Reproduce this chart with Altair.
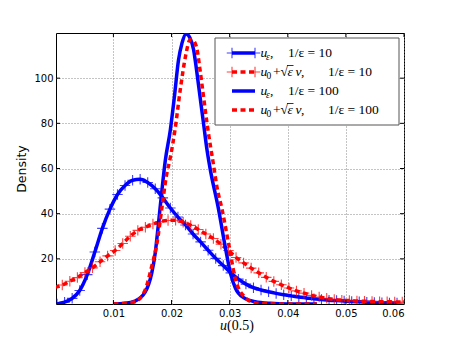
import altair as alt
import pandas as pd

# ---------------- data ----------------
x_ticks = [0.01, 0.02, 0.03, 0.04, 0.05, 0.06]
y_ticks = [20, 40, 60, 80, 100]

# u_eps, 1/eps = 10  (blue, '+' markers)
blue10_x = [0.0003, 0.0016, 0.0029, 0.0042, 0.0055, 0.0068, 0.0081, 0.0094, 0.0107, 0.0120,
            0.0133, 0.0146, 0.0159, 0.0172, 0.0185, 0.0198, 0.0211, 0.0224, 0.0237, 0.0250,
            0.0263, 0.0276, 0.0289, 0.0302, 0.0315, 0.0328, 0.0341, 0.0354, 0.0367, 0.0380,
            0.0393, 0.0406, 0.0419, 0.0432, 0.0445, 0.0458, 0.0471, 0.0484, 0.0497, 0.0510,
            0.0523, 0.0536, 0.0549, 0.0562, 0.0575, 0.0588]
blue10_y = [0.0, 0.8, 2.5, 6.0, 13.0, 23.0, 33.5, 42.0, 48.5, 52.5,
            54.8, 55.2, 53.8, 51.0, 47.0, 42.5, 38.5, 35.0, 31.0, 27.5,
            23.8, 20.2, 17.0, 13.8, 11.0, 8.8, 7.2, 6.2, 5.4, 4.7,
            4.1, 3.6, 3.1, 2.7, 2.3, 2.0, 1.7, 1.5, 1.3, 1.1,
            1.0, 0.8, 0.7, 0.6, 0.5, 0.4]

# u0 + sqrt(eps) v, 1/eps = 10  (red dashed, '+' markers)
red10_x = [-0.0001, 0.0012, 0.0025, 0.0038, 0.0051, 0.0064, 0.0077, 0.0090, 0.0103, 0.0116,
           0.0129, 0.0142, 0.0155, 0.0168, 0.0181, 0.0194, 0.0207, 0.0220, 0.0233, 0.0246,
           0.0259, 0.0272, 0.0285, 0.0298, 0.0311, 0.0324, 0.0337, 0.0350, 0.0363, 0.0376,
           0.0389, 0.0402, 0.0415, 0.0428, 0.0441, 0.0454, 0.0467, 0.0480, 0.0493, 0.0506,
           0.0519, 0.0532, 0.0545, 0.0558, 0.0571, 0.0584, 0.0597]
red10_y = [7.4, 8.4, 10.1, 11.7, 13.9, 16.0, 18.7, 21.3, 23.7, 26.8,
           30.0, 32.6, 34.0, 35.4, 36.5, 37.0, 37.1, 36.2, 34.8, 33.0,
           31.0, 29.0, 26.5, 23.7, 20.6, 18.2, 15.9, 13.8, 11.8, 10.0,
           8.5, 7.1, 5.8, 4.8, 3.8, 3.1, 2.5, 2.0, 1.7, 1.5,
           1.3, 1.2, 1.1, 1.0, 1.0, 0.9, 0.9]

# u_eps, 1/eps = 100  (blue solid)
blue100_x = [0.0100, 0.0120, 0.0137, 0.0154, 0.0166, 0.0172, 0.0177, 0.0183, 0.0189, 0.0198,
             0.0205, 0.0212, 0.0218, 0.0225, 0.0232, 0.0238, 0.0243, 0.0249, 0.0255, 0.0261,
             0.0266, 0.0281, 0.0293, 0.0302, 0.0310, 0.0324, 0.0344, 0.0370, 0.0400, 0.0450]
blue100_y = [0.0, 0.3, 1.3, 5.0, 13.8, 22.7, 34.4, 49.2, 63.0, 77.2,
             91.9, 108.0, 115.5, 119.6, 117.7, 112.5, 103.7, 91.9, 80.1, 68.3,
             60.5, 41.8, 24.5, 13.0, 7.0, 2.8, 1.0, 0.3, 0.05, 0.0]

# u0 + sqrt(eps) v, 1/eps = 100  (red dashed)
red100_x = [0.0100, 0.0120, 0.0137, 0.0155, 0.0166, 0.0175, 0.0183, 0.0191, 0.0198, 0.0206,
            0.0215, 0.0224, 0.0232, 0.0238, 0.0244, 0.0249, 0.0255, 0.0261, 0.0267, 0.0272,
            0.0278, 0.0287, 0.0298, 0.0310, 0.0327, 0.0344, 0.0370, 0.0400, 0.0450]
red100_y = [0.0, 0.3, 1.0, 6.5, 16.8, 27.0, 41.8, 56.5, 65.0, 77.2,
            94.9, 109.6, 117.0, 116.5, 112.5, 103.7, 91.9, 80.1, 69.8, 62.0,
            52.0, 41.8, 27.0, 11.0, 2.8, 0.5, 0.1, 0.0, 0.0]

# ---------------- layout / style ----------------
W, H = 348, 271
BLUE, RED = "#0000ff", "#ff0000"
DASH = [5, 3.5]
LW = 3.5
CROSS = "M-1,0L1,0M0,-1L0,1"
MATH = "Liberation Serif"

xs = alt.Scale(domain=[0.00012, 0.06], nice=False, zero=False)
ys = alt.Scale(domain=[0, 120], nice=False, zero=False)

X = alt.X("x:Q", scale=xs,
          axis=alt.Axis(values=x_ticks, format=".2f", title=None, labelPadding=4))
Y = alt.Y("y:Q", scale=ys,
          axis=alt.Axis(values=y_ticks, format="d", title="Density",
                        titleFont="DejaVu Sans", titleFontSize=12.5, titleFontWeight="normal",
                        titlePadding=5, labelPadding=3))


def frame(xv, yv):
    return pd.DataFrame({"x": xv, "y": yv})


def line_layer(df, color, dash=None):
    kw = dict(color=color, strokeWidth=LW, clip=True, interpolate="monotone")
    if dash:
        kw["strokeDash"] = dash
    return alt.Chart(df).mark_line(**kw).encode(x=X, y=Y)


def cross_layer(df, color):
    return alt.Chart(df).mark_point(shape=CROSS, size=110, filled=False, strokeWidth=1.1,
                                    color=color, opacity=0.75, clip=True).encode(x=X, y=Y)


b10 = frame(blue10_x, blue10_y)
r10 = frame(red10_x, red10_y)
b100 = frame(blue100_x, blue100_y)
r100 = frame(red100_x, red100_y)

layers = [
    line_layer(b10, BLUE), cross_layer(b10, BLUE),
    line_layer(r10, RED, DASH), cross_layer(r10, RED),
    line_layer(b100, BLUE),
    line_layer(r100, RED, DASH),
]

# inward tick marks on all four sides
xt = pd.DataFrame({"x": x_ticks})
yt = pd.DataFrame({"y": y_ticks})
layers += [
    alt.Chart(xt).mark_rule(color="black", strokeWidth=1).encode(x=X, y=alt.value(H), y2=alt.value(H - 4)),
    alt.Chart(xt).mark_rule(color="black", strokeWidth=1).encode(x=X, y=alt.value(0), y2=alt.value(4)),
    alt.Chart(yt).mark_rule(color="black", strokeWidth=1).encode(y=Y, x=alt.value(0), x2=alt.value(4)),
    alt.Chart(yt).mark_rule(color="black", strokeWidth=1).encode(y=Y, x=alt.value(W), x2=alt.value(W - 4)),
]

one = pd.DataFrame({"k": [0]})


def txt(s, x, y, size=13.5, style="normal", align="left"):
    return alt.Chart(one).mark_text(text=s, align=align, baseline="middle", font=MATH,
                                    fontSize=size, fontStyle=style, color="black").encode(
        x=alt.value(x), y=alt.value(y))


# x-axis title  u(0.5)  with italic u
layers.append(txt("u", 164, 293, size=14, style="italic"))
layers.append(txt("(0.5)", 171, 293, size=14))

# ---------------- manual legend ----------------
layers.append(alt.Chart(one).mark_rect(fill="white", stroke="#555555", strokeWidth=1).encode(
    x=alt.value(159), x2=alt.value(343), y=alt.value(5), y2=alt.value(92)))

rows_y = [20, 39, 58, 77]
sx0, sx1 = 176, 199
row_style = [(BLUE, None, True), (RED, DASH, True), (BLUE, None, False), (RED, DASH, False)]
row_tail = ["1/ε = 10", "1/ε = 10", "1/ε = 100", "1/ε = 100"]

for i, ry in enumerate(rows_y):
    color, dash, marks = row_style[i]
    kw = dict(color=color, strokeWidth=LW)
    if dash:
        kw["strokeDash"] = dash
    layers.append(alt.Chart(one).mark_rule(**kw).encode(
        x=alt.value(sx0), x2=alt.value(sx1), y=alt.value(ry)))
    if marks:
        for mx in (sx0, sx1):
            layers.append(alt.Chart(one).mark_point(shape=CROSS, size=110, filled=False,
                                                    strokeWidth=1.1, color=color, opacity=0.75).encode(
                x=alt.value(mx), y=alt.value(ry)))
    layers.append(txt("u", 204.5, ry, style="italic"))
    if i % 2 == 0:
        layers.append(txt("ε", 210, ry + 4, size=9.5, style="italic"))
        layers.append(txt(",", 214, ry))
        layers.append(txt(row_tail[i], 232, ry))
    else:
        layers.append(txt("0", 210.5, ry + 4, size=9.5))
        layers.append(txt("+", 217, ry))
        layers.append(txt("√", 224.5, ry))
        layers.append(txt("ε", 231.5, ry, style="italic"))
        layers.append(alt.Chart(one).mark_rule(color="black", strokeWidth=0.8).encode(
            x=alt.value(231), x2=alt.value(237.5), y=alt.value(ry - 6.5)))
        layers.append(txt("v", 239.5, ry, style="italic"))
        layers.append(txt(",", 245, ry))
        layers.append(txt(row_tail[i], 272, ry))

chart = alt.layer(*layers).properties(
    width=W, height=H,
    autosize=alt.AutoSizeParams(type="none"),
    padding={"left": 48, "top": 25, "right": 30, "bottom": 30},
).configure_view(
    stroke="black", strokeWidth=1
).configure_axis(
    grid=True, gridColor="#888888", gridDash=[1, 2], gridWidth=1, gridOpacity=1,
    domain=False, ticks=False,
    labelFont="DejaVu Sans", labelFontSize=10, labelColor="black", titleColor="black",
)

chart.save("out.html", embed_options={"renderer": "svg", "actions": False})
